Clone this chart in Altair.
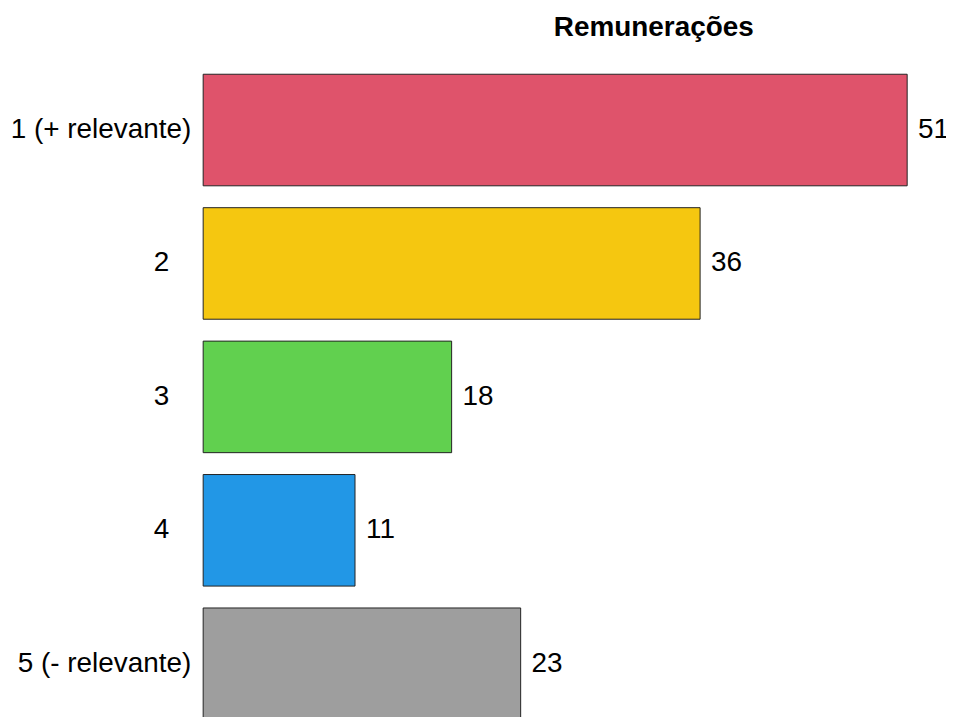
import altair as alt
import pandas as pd

categories = ["1 (+ relevante)", "2", "3", "4", "5 (- relevante)"]
values = [51, 36, 18, 11, 23]
colors = ["#DF536B", "#F5C710", "#61D04F", "#2297E6", "#9E9E9E"]
title_text = "Remunerações"

df = pd.DataFrame({"cat": categories, "value": values, "color": colors})

FONT = "Liberation Sans"

y = alt.Y("cat:N", sort=categories, axis=None,
          scale=alt.Scale(paddingInner=0.164, paddingOuter=0.082))
x = alt.X("value:Q", axis=None, scale=alt.Scale(domain=[0, 51], nice=False, zero=True))

base = alt.Chart(df)

bars = base.mark_bar(stroke="#222222", strokeWidth=1).encode(
    x=x, y=y, color=alt.Color("color:N", scale=None)
)

value_text = base.mark_text(
    align="left", baseline="middle", dx=11, fontSize=28, font=FONT, color="black"
).encode(x=x, y=y, text="value:Q")

long_labels = base.transform_filter("length(datum.cat) > 1").mark_text(
    align="right", baseline="middle", fontSize=28, font=FONT, color="black"
).encode(x=alt.value(-12), y=y, text="cat:N")

short_labels = base.transform_filter("length(datum.cat) <= 1").mark_text(
    align="right", baseline="middle", fontSize=28, font=FONT, color="black"
).encode(x=alt.value(-34), y=y, text="cat:N")

chart = alt.layer(bars, value_text, long_labels, short_labels).properties(
    width=707,
    height=670,
    autosize="none",
    padding={"left": 196, "top": 54, "right": 39, "bottom": 0},
    title=alt.TitleParams(
        title_text, anchor="middle", dx=99, dy=21, offset=20, fontSize=28,
        font=FONT, fontWeight="bold", baseline="alphabetic", color="black"
    ),
).configure_view(stroke=None)

chart.save("out.html", embed_options={"renderer": "svg", "actions": False})
